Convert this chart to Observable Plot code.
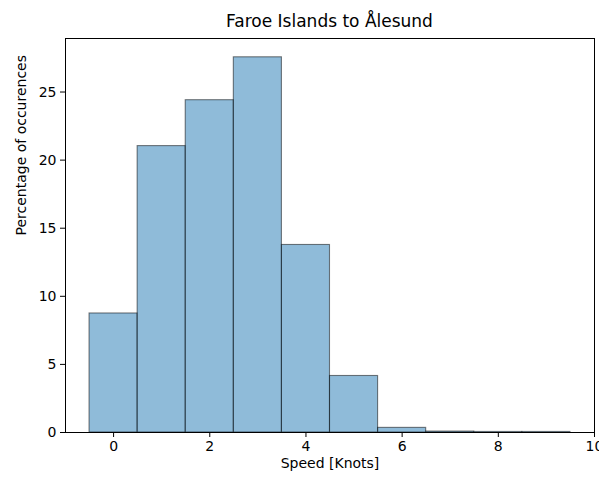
<!DOCTYPE html>
<html>
<head>
<meta charset="utf-8">
<script src="https://cdn.jsdelivr.net/npm/d3@7"></script>
<script src="https://cdn.jsdelivr.net/npm/@observablehq/plot@0.6"></script>
<style>
  html, body { margin: 0; padding: 0; background: #fff; }
  #wrap { position: relative; width: 599px; height: 477px; font-family: "DejaVu Sans", sans-serif; overflow: hidden; }
  #title { position: absolute; left: 65px; width: 529px; top: 11px; text-align: center; font-size: 17px; color: #000; line-height: 20px; z-index: 2; }
</style>
</head>
<body>
<div id="wrap"><div id="title"></div></div>
<script>
const title = "Faroe Islands to Ålesund";
const xLabel = "Speed [Knots]";
const yLabel = "Percentage of occurences";
const binStarts = [-0.5, 0.5, 1.5, 2.5, 3.5, 4.5, 5.5, 6.5, 7.5, 8.5];
const binEnds   = [0.5, 1.5, 2.5, 3.5, 4.5, 5.5, 6.5, 7.5, 8.5, 9.5];
const percentages = [8.74, 21.03, 24.4, 27.55, 13.77, 4.15, 0.34, 0.07, 0.04, 0.04];
const xTicks = [0, 2, 4, 6, 8, 10];
const yTicks = [0, 5, 10, 15, 20, 25];

document.getElementById("title").textContent = title;
const data = binStarts.map((s, i) => ({x1: s, x2: binEnds[i], y: percentages[i]}));

const chart = Plot.plot({
  width: 599,
  height: 477,
  marginLeft: 65,
  marginRight: 5,
  marginTop: 38,
  marginBottom: 45,
  style: {fontFamily: "DejaVu Sans, sans-serif", fontSize: "14px", color: "#000", background: "transparent", overflow: "visible"},
  x: {domain: [-1, 10], ticks: xTicks, tickSize: 5, tickPadding: 4, label: null},
  y: {domain: [0, 28.93], ticks: yTicks, tickSize: 5, tickPadding: 4, label: null},
  marks: [
    Plot.rectY(data, {x1: "x1", x2: "x2", y: "y", fill: "#1f77b4", fillOpacity: 0.5, stroke: "#000", strokeOpacity: 0.5, strokeWidth: 1.1}),
    Plot.frame({stroke: "#000", strokeWidth: 1}),
    Plot.text([xLabel], {text: d => d, frameAnchor: "bottom", dy: 35, fontSize: 14, fill: "#000"}),
    Plot.text([yLabel], {text: d => d, frameAnchor: "left", dx: -44, rotate: -90, fontSize: 14, fill: "#000"})
  ]
});
chart.style.position = "absolute";
chart.style.left = "0";
chart.style.top = "0";
chart.style.zIndex = "1";
document.getElementById("wrap").appendChild(chart);
</script>
</body>
</html>
